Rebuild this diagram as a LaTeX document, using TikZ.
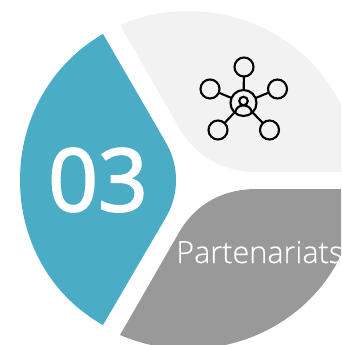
\documentclass[tikz,border=0pt]{standalone}
\usepackage{fontspec}
\setmainfont{Open Sans}
\newfontfamily\numfont[FakeBold=2.2]{Open Sans}
\newfontfamily\lightfont[FakeBold=0.3]{Open Sans Light}
\definecolor{tealblue}{HTML}{4BACC6}
\definecolor{lightpetal}{HTML}{F2F2F2}
\definecolor{darkpetal}{HTML}{999999}
\tikzset{
  petal/.style={draw=none},
  iconring/.style={circle,draw=black,line width=2.1pt,minimum size=#1,inner sep=0pt,outer sep=0pt},
  iconlink/.style={draw=black,line width=2.1pt},
  bigtext/.style={text=white,font=\numfont\fontsize{87}{87}\selectfont,inner sep=0pt},
  labeltext/.style={text=white,font=\lightfont\fontsize{30.6}{31}\selectfont,inner sep=0pt,anchor=base west}
}
\begin{document}
\begin{tikzpicture}[x=1pt,y=-1pt]
\useasboundingbox (0,0) rectangle (341,345);
\clip (0,0) rectangle (341,345);
\fill[petal,tealblue] (103,34) -- (165,141) .. controls (172,153) and (176,165) .. (176,180)
  .. controls (176,195) and (172,207) .. (165,219) -- (103,325)
  .. controls (51,296) and (20,241) .. (20,180)
  .. controls (20,119) and (51,64) .. (103,34) -- cycle;
\fill[petal,lightpetal] (120,25) -- (177,124) .. controls (192,152) and (218,172) .. (257,172)
  -- (356,172) .. controls (356,82) and (280,11) .. (188,11)
  .. controls (164,11) and (141,16) .. (120,25) -- cycle;
\fill[petal,darkpetal] (120,335) -- (177,236) .. controls (192,208) and (218,189) .. (257,189)
  -- (356,189) .. controls (356,278) and (280,349) .. (188,349)
  .. controls (164,349) and (141,344) .. (120,335) -- cycle;
\node[bigtext] (num) at (98,180) {03};
\node[labeltext] (lab) at (176,263) {Partenariats};
\node[iconring=26pt] (hub) at (243.5,103) {};
\node[iconring=19pt] (top) at (244,67) {};
\node[iconring=19pt] (left) at (210,89) {};
\node[iconring=19pt] (right) at (277.5,89) {};
\node[iconring=19pt] (bl) at (218,130) {};
\node[iconring=19pt] (br) at (269.5,130) {};
\node[iconring=8.5pt] (head) at (243.5,101) {};
\draw[iconlink] (hub) -- (top);
\draw[iconlink] (hub) -- (left);
\draw[iconlink] (hub) -- (right);
\draw[iconlink] (hub) -- (bl);
\draw[iconlink] (hub) -- (br);
\draw[iconlink] (235,113) .. controls (236,107) and (240,105.5) .. (243.5,105.5)
  .. controls (247,105.5) and (251,107) .. (252,113);
\end{tikzpicture}
\end{document}
